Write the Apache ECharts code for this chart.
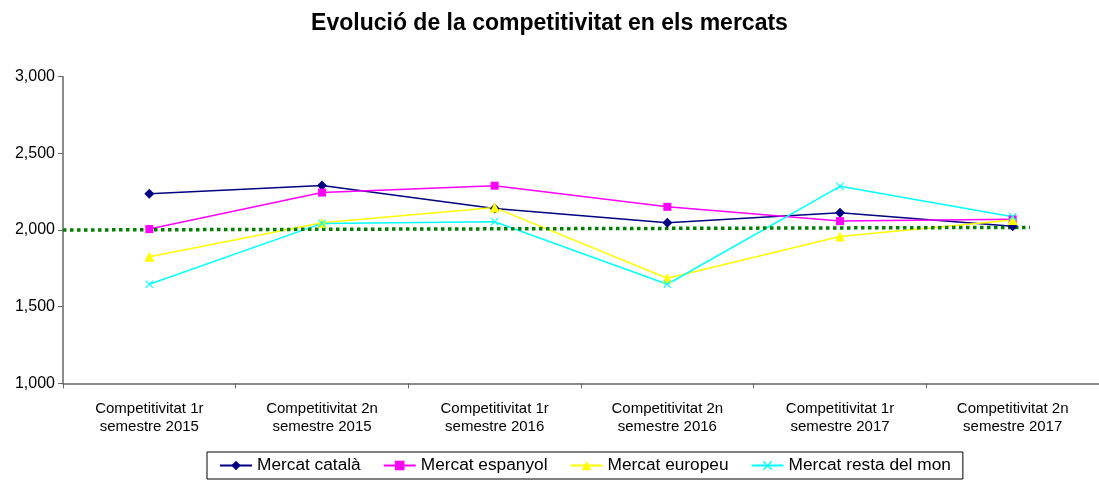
<!DOCTYPE html>
<html>
<head>
<meta charset="utf-8">
<script src="https://cdn.jsdelivr.net/npm/echarts@6/dist/echarts.min.js"></script>
<style>html,body{margin:0;padding:0;background:#fff;}#c{width:1099px;height:480px;}</style>
</head>
<body>
<div id="c"></div>
<script>
const categories = [
  'Competitivitat 1r semestre 2015',
  'Competitivitat 2n semestre 2015',
  'Competitivitat 1r semestre 2016',
  'Competitivitat 2n semestre 2016',
  'Competitivitat 1r semestre 2017',
  'Competitivitat 2n semestre 2017'
];
const mercatCatala = [2237, 2290, 2141, 2048, 2113, 2024];
const mercatEspanyol = [2006, 2244, 2289, 2151, 2058, 2070];
const mercatEuropeu = [1826, 2047, 2146, 1685, 1957, 2065];
const mercatRestaMon = [1646, 2043, 2054, 1646, 2285, 2087];
const referenceLineX = [-0.5, 5.1];
const referenceLineY = [2000, 2017];
const yTicks = [1000, 1500, 2000, 2500, 3000];

const FONT = 'Arial, "Liberation Sans", sans-serif';
const xSymbol = 'path://M1,0 L5,4 L9,0 L10,1 L6,5 L10,9 L9,10 L5,6 L1,10 L0,9 L4,5 L0,1 Z';

const chart = echarts.init(document.getElementById('c'), null, {renderer: 'canvas'});
chart.setOption({
  animation: false,
  backgroundColor: '#ffffff',
  title: {
    text: 'Evolució de la competitivitat en els mercats',
    left: 'center',
    top: 12,
    padding: 0,
    textStyle: {fontFamily: FONT, fontSize: 23, fontWeight: 'bold', color: '#000'}
  },
  grid: {left: 63, right: -8, top: 76.7, bottom: 96.7, containLabel: false},
  legend: {
    data: ['Mercat català', 'Mercat espanyol', 'Mercat europeu', 'Mercat resta del mon'],
    left: 207,
    top: 452,
    padding: [5, 12, 5, 12],
    itemGap: 22,
    itemWidth: 32,
    itemHeight: 12,
    borderColor: '#000',
    borderWidth: 1,
    textStyle: {fontFamily: FONT, fontSize: 17.3, color: '#000'}
  },
  xAxis: [{
    type: 'category',
    data: categories,
    boundaryGap: true,
    axisLine: {lineStyle: {color: '#666', width: 1.5}},
    axisTick: {show: true, length: 5, lineStyle: {color: '#666'}},
    axisLabel: {
      interval: 0,
      margin: 17,
      fontFamily: FONT, fontSize: 15, color: '#000', lineHeight: 17.5,
      formatter: v => v.replace(' semestre', '\nsemestre')
    }
  }, {
    type: 'value',
    min: -0.5, max: 5.5,
    show: false
  }],
  yAxis: {
    type: 'value',
    min: yTicks[0], max: yTicks[yTicks.length - 1], interval: 500,
    splitLine: {show: false},
    axisLine: {show: true, onZero: false, lineStyle: {color: '#666', width: 1.5}},
    axisTick: {show: true, length: 5, lineStyle: {color: '#666'}},
    axisLabel: {
      margin: 8,
      fontFamily: FONT, fontSize: 16, color: '#000',
      formatter: v => v.toLocaleString('en-US')
    }
  },
  series: [
    {
      name: 'Mercat català', type: 'line', data: mercatCatala,
      symbol: 'diamond', symbolSize: 10,
      lineStyle: {color: '#000080', width: 1.5},
      itemStyle: {color: '#000080'}
    },
    {
      name: 'Mercat espanyol', type: 'line', data: mercatEspanyol,
      symbol: 'rect', symbolSize: 8,
      lineStyle: {color: '#FF00FF', width: 1.5},
      itemStyle: {color: '#FF00FF'}
    },
    {
      name: 'Mercat europeu', type: 'line', data: mercatEuropeu,
      symbol: 'triangle', symbolSize: 10,
      lineStyle: {color: '#FFFF00', width: 1.5},
      itemStyle: {color: '#FFFF00'}
    },
    {
      name: 'Mercat resta del mon', type: 'line', data: mercatRestaMon,
      symbol: xSymbol, symbolSize: 8,
      lineStyle: {color: '#00FFFF', width: 1.5},
      itemStyle: {color: '#00FFFF'}
    },
    {
      name: 'ref', type: 'line', xAxisIndex: 1,
      data: referenceLineX.map((x, i) => [x, referenceLineY[i]]),
      symbol: 'none',
      lineStyle: {color: '#008000', width: 3.5, type: [3.5, 3.5]},
      silent: true
    }
  ]
});
</script>
</body>
</html>
